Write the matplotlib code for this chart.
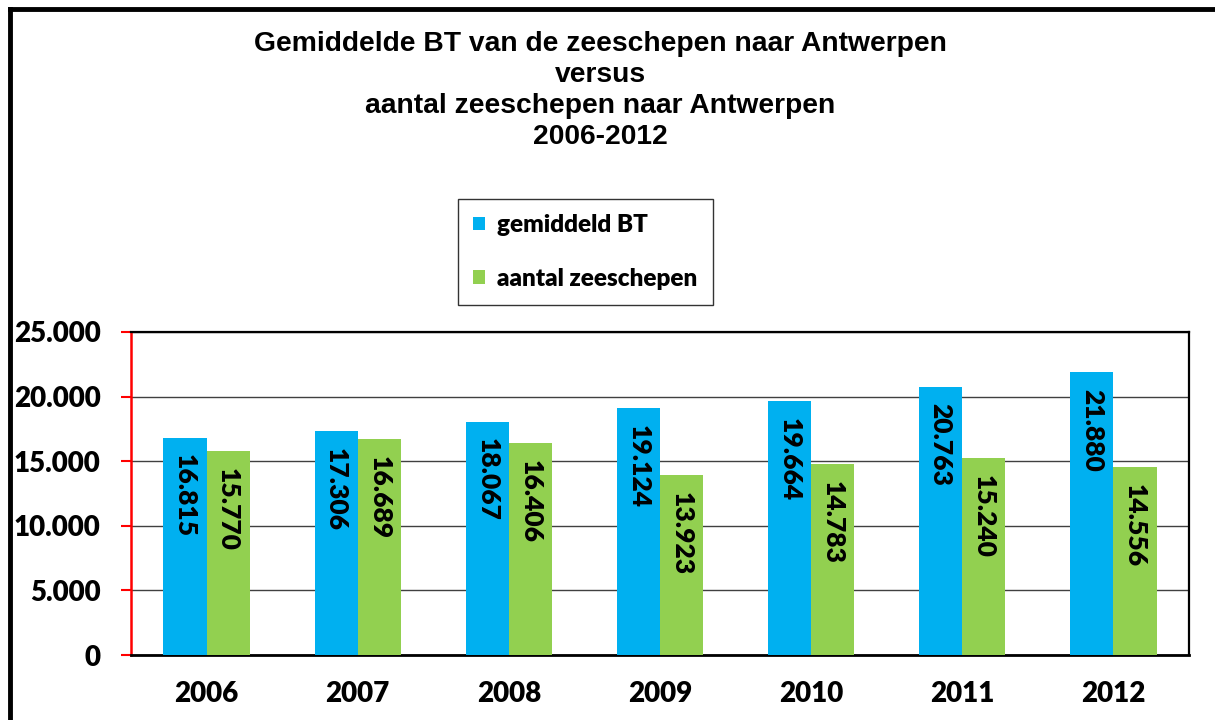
import matplotlib
matplotlib.use("Agg")
import matplotlib.pyplot as plt
from matplotlib.patches import Patch
from matplotlib.lines import Line2D
import numpy as np

years = ["2006", "2007", "2008", "2009", "2010", "2011", "2012"]
gemiddeld_bt = [16815, 17306, 18067, 19124, 19664, 20763, 21880]
aantal_zeeschepen = [15770, 16689, 16406, 13923, 14783, 15240, 14556]
y_ticks = [0, 5000, 10000, 15000, 20000, 25000]
y_tick_labels = ["0", "5.000", "10.000", "15.000", "20.000", "25.000"]
series_names = ["gemiddeld BT", "aantal zeeschepen"]
title = ("Gemiddelde BT van de zeeschepen naar Antwerpen\nversus\n"
         "aantal zeeschepen naar Antwerpen\n2006-2012")

BLUE = "#00B0F0"
GREEN = "#92D050"
LFONT = "Lato"
LW = "heavy"

W, H = 1215, 720
fig = plt.figure(figsize=(W / 100, H / 100), dpi=100)
ax = fig.add_axes([131 / W, 1 - 655 / H, (1189 - 131) / W, (655 - 332) / H])

x = np.arange(len(years))
w = 0.285
b1 = ax.bar(x - w / 2, gemiddeld_bt, w, color=BLUE, zorder=3)
b2 = ax.bar(x + w / 2, aantal_zeeschepen, w, color=GREEN, zorder=3)

def fmt(v):
    return f"{v/1000:.3f}"

for bars, vals in ((b1, gemiddeld_bt), (b2, aantal_zeeschepen)):
    for rect, v in zip(bars, vals):
        ax.annotate(fmt(v), (rect.get_x() + rect.get_width() / 2, v),
                    xytext=(0, -12), textcoords="offset points",
                    rotation=-90, ha="center", va="top",
                    fontsize=19, fontweight=LW, family=LFONT,
                    color="black", zorder=4)

ax.set_xlim(-0.5, len(years) - 0.5)
ax.set_ylim(0, 25000)
ax.set_yticks(y_ticks)
ax.set_yticklabels(y_tick_labels, fontsize=20, fontweight=LW, family=LFONT)
ax.set_xticks(x)
ax.set_xticklabels(years, fontsize=20, fontweight=LW, family=LFONT)
ax.tick_params(axis="y", direction="out", length=7, width=1.5, color="red", pad=15)
ax.tick_params(axis="x", length=0, pad=19)
ax.yaxis.grid(True, color="#404040", linewidth=1, zorder=0)
ax.set_axisbelow(True)

ax.spines["left"].set_color("red")
ax.spines["left"].set_linewidth(1.8)
for s in ("top", "right"):
    ax.spines[s].set_color("black")
    ax.spines[s].set_linewidth(1.6)
ax.spines["bottom"].set_color("black")
ax.spines["bottom"].set_linewidth(2)

fig.text(600 / W, 1 - 31 / H, title, ha="center", va="top",
         fontsize=20.3, fontweight="bold", family="Liberation Sans",
         linespacing=1.25)

handles = [Patch(facecolor=BLUE), Patch(facecolor=GREEN)]
leg = fig.legend(handles, series_names, loc="upper left",
                 bbox_to_anchor=(458 / W, 1 - 199 / H),
                 prop={"family": LFONT, "weight": LW, "size": 17.5},
                 frameon=True, fancybox=False, edgecolor="black",
                 handlelength=0.5, handleheight=0.5, handletextpad=0.5,
                 labelspacing=1.3, borderpad=0.62, borderaxespad=0)
leg.get_frame().set_linewidth(1)

# figure border (left and top visible)
fig.add_artist(Line2D([10 / W, 10 / W], [0, 1 - 9 / H], color="black", linewidth=3.5,
                      transform=fig.transFigure))
fig.add_artist(Line2D([10 / W, 1], [1 - 9 / H, 1 - 9 / H], color="black", linewidth=3.5,
                      transform=fig.transFigure))

fig.savefig("out.png", dpi=100)
